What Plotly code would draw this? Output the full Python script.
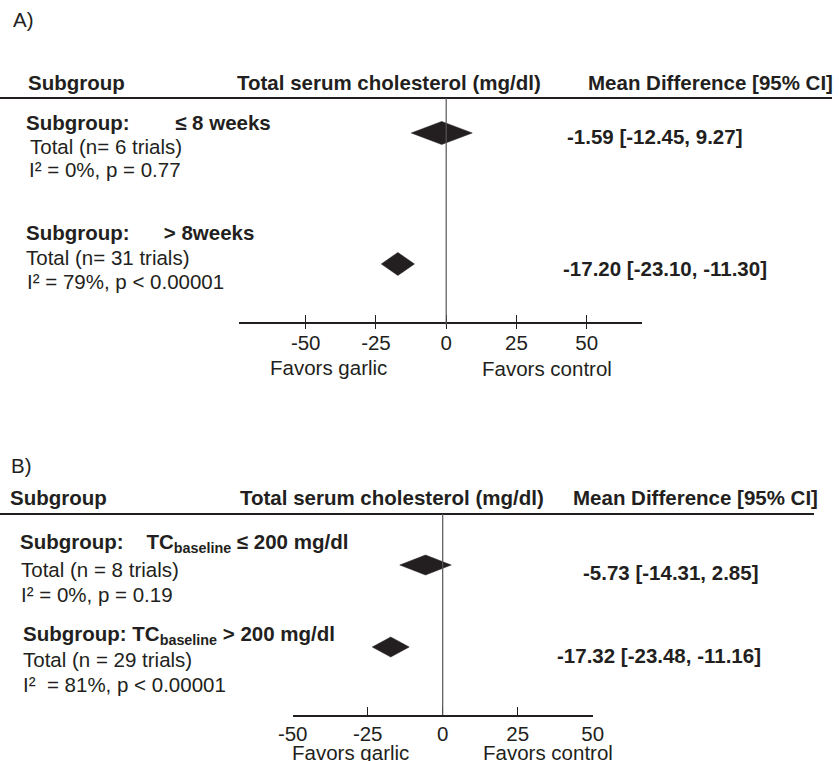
import plotly.graph_objects as go

W, H = 839, 761
INK = "#231f20"
FONT = "Liberation Sans, Arial, Helvetica, sans-serif"
FS = 20.5

# ---------------- data ----------------
header_cols = ["Subgroup", "Total serum cholesterol (mg/dl)", "Mean Difference [95% CI]"]

a_titles = ["Subgroup:" + "\u00a0" * 8 + "≤ 8 weeks", "Subgroup:" + "\u00a0" * 6 + "> 8weeks"]
a_totals = ["Total (n= 6 trials)", "Total (n= 31 trials)"]
a_hetero = ["I² = 0%, p = 0.77", "I² = 79%, p < 0.00001"]
a_md = [-1.59, -17.20]
a_lo = [-12.45, -23.10]
a_hi = [9.27, -11.30]

b_titles = ["Subgroup:" + "\u00a0" * 4 + "TC<sub>baseline</sub> ≤ 200 mg/dl",
            "Subgroup: TC<sub>baseline</sub> > 200 mg/dl"]
b_totals = ["Total (n = 8 trials)", "Total (n = 29 trials)"]
b_hetero = ["I² = 0%, p = 0.19", "I²\u00a0 = 81%, p < 0.00001"]
b_md = [-5.73, -17.32]
b_lo = [-14.31, -23.48]
b_hi = [2.85, -11.16]

tick_vals = [-50, -25, 0, 25, 50]
tick_text = ["-50", "-25", "0", "25", "50"]
favors = ["Favors garlic", "Favors control"]
panel_labels = ["A)", "B)"]


def px(x):
    return x / W


def py(y):
    return 1 - y / H


fig = go.Figure()


def diamonds(md, lo, hi, half, xa, ya):
    for i, (m, l, h) in enumerate(zip(md, lo, hi)):
        r = i + 1
        fig.add_trace(go.Scatter(
            x=[l, m, h, m, l], y=[r, r - half, r, r + half, r],
            mode="lines", fill="toself", fillcolor=INK,
            line=dict(color=INK, width=0.5), xaxis=xa, yaxis=ya,
            hoverinfo="skip", showlegend=False))


diamonds(a_md, a_lo, a_hi, 0.088, "x", "y")
diamonds(b_md, b_lo, b_hi, 0.122, "x2", "y2")

# A axis scale: 0 at 446.2 px, 2.81 px/unit ; axis line 239..641.7 px
xa_rng = [(239 - 446.2) / 2.81, (641.7 - 446.2) / 2.81]
# B axis scale: 0 at 442.7 px, 3 px/unit
xb_rng = [-50, 50]

axis_common = dict(showgrid=False, zeroline=False, showline=True, linecolor=INK, linewidth=1.5,
                   tickmode="array", tickvals=tick_vals, ticktext=tick_text,
                   tickfont=dict(family=FONT, size=FS, color=INK), tickcolor=INK, tickwidth=1.2,
                   fixedrange=True, automargin=False)

fig.update_layout(
    width=W, height=H, margin=dict(l=0, r=0, t=0, b=0, pad=0, autoexpand=False),
    paper_bgcolor="white", plot_bgcolor="rgba(0,0,0,0)",
    font=dict(family=FONT, size=FS, color=INK),
    showlegend=False,
    xaxis=dict(domain=[px(239), px(641.7)], range=xa_rng, anchor="y",
               ticks="inside", ticklen=7, ticklabelstandoff=2, **axis_common),
    xaxis3=dict(overlaying="x", range=xa_rng, anchor="y", showgrid=False, zeroline=False,
                showline=False, tickmode="array", tickvals=tick_vals, showticklabels=False,
                ticks="outside", ticklen=6, tickcolor=INK, tickwidth=1.2, side="bottom",
                automargin=False, fixedrange=True),
    yaxis=dict(domain=[py(322), py(98)], range=[2.443, 0.733], visible=False, fixedrange=True),
    xaxis2=dict(domain=[px(292.7), px(592.7)], range=xb_rng, anchor="y2",
                ticks="inside", ticklen=8, **axis_common),
    yaxis2=dict(domain=[py(715), py(514)], range=[2.829, 0.378], visible=False, fixedrange=True),
)
# invisible trace so the overlaid tick axis renders
fig.add_trace(go.Scatter(x=[0], y=[1], xaxis="x3", yaxis="y", mode="markers",
                         marker=dict(opacity=0), hoverinfo="skip", showlegend=False))

shapes = [
    dict(type="line", xref="paper", yref="paper", x0=0, x1=px(832), y0=py(98), y1=py(98),
         line=dict(color=INK, width=2)),
    dict(type="line", xref="paper", yref="paper", x0=0, x1=px(814), y0=py(514), y1=py(514),
         line=dict(color=INK, width=2)),
    dict(type="line", xref="x", yref="paper", x0=0, x1=0, y0=py(325), y1=py(98),
         line=dict(color="#555555", width=1.2)),
    dict(type="line", xref="x2", yref="paper", x0=0, x1=0, y0=py(715), y1=py(514),
         line=dict(color="#555555", width=1.2)),
]
fig.update_layout(shapes=shapes)


def txt(s, x, y, bold=False, anchor="left"):
    fig.add_annotation(text=f"<b>{s}</b>" if bold else s, x=px(x), y=py(y),
                       xref="paper", yref="paper", xanchor=anchor, yanchor="middle",
                       showarrow=False, borderpad=0, font=dict(family=FONT, size=FS, color=INK))


# panel labels
txt(panel_labels[0], 12, 20)
txt(panel_labels[1], 10, 466)

# headers
hdr_pos = [([27, 236, 587], 82), ([9, 239, 572], 497)]
for xs, yy in hdr_pos:
    for s, xx in zip(header_cols, xs):
        txt(s, xx, yy, bold=True)

# panel A row texts
a_title_y = [122, 232]
a_total = [(29, 146), (25, 257)]
a_het = [(28, 169), (26, 281)]
a_md_y = [136, 268]
a_md_x = [566, 562]
for i in range(2):
    txt(a_titles[i], 25, a_title_y[i], bold=True)
    txt(a_totals[i], a_total[i][0], a_total[i][1])
    txt(a_hetero[i], a_het[i][0], a_het[i][1])
    txt(f"{a_md[i]:.2f} [{a_lo[i]:.2f}, {a_hi[i]:.2f}]", a_md_x[i], a_md_y[i], bold=True)

# panel B row texts
b_title = [(19, 543), (22, 635)]
b_total = [(20, 569), (22, 659)]
b_het = [(20, 594), (22, 684)]
b_md_y = [572, 655]
b_md_x = [582, 556]
for i in range(2):
    txt(b_titles[i], b_title[i][0], b_title[i][1], bold=True)
    txt(b_totals[i], b_total[i][0], b_total[i][1])
    txt(b_hetero[i], b_het[i][0], b_het[i][1])
    txt(f"{b_md[i]:.2f} [{b_lo[i]:.2f}, {b_hi[i]:.2f}]", b_md_x[i], b_md_y[i], bold=True)

# favors labels
txt(favors[0], 328, 367, anchor="center")
txt(favors[1], 547, 368, anchor="center")
txt(favors[0], 350, 752, anchor="center")
txt(favors[1], 548, 752, anchor="center")

fig.write_html("out.html")
